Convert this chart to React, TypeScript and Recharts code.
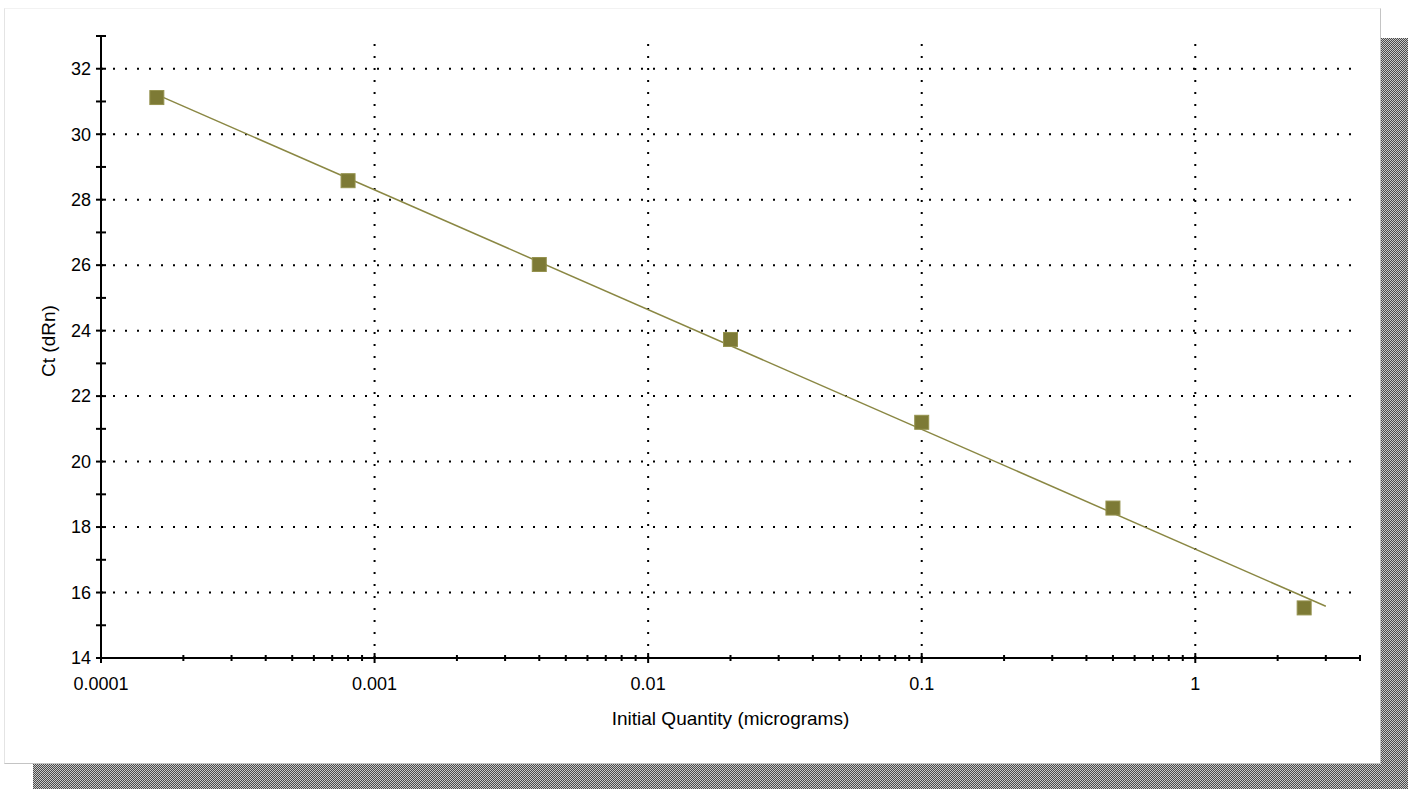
import { ReferenceLine, Scatter, ScatterChart, XAxis, YAxis } from "recharts"

// dilution series
const quantities = [0.00016, 0.0008, 0.004, 0.02, 0.1, 0.5, 2.5]
const ctValues = [31.12, 28.58, 26.02, 23.73, 21.2, 18.58, 15.53]

// fitted standard curve end points
const fitQuantities = [0.00016, 3]
const fitCt = [31.21, 15.58]

const xDecades = [0.0001, 0.001, 0.01, 0.1]
const xMantissas = [1, 2, 3, 4, 5, 6, 7, 8, 9]
const xTail = [1, 2, 3, 4]
const xGridValues = [0.001, 0.01, 0.1, 1]

const yTicks = [14, 15, 16, 17, 18, 19, 20, 21, 22, 23, 24, 25, 26, 27, 28, 29, 30, 31, 32, 33]
const yLabelled = [14, 16, 18, 20, 22, 24, 26, 28, 30, 32]
const yGridValues = [16, 18, 20, 22, 24, 26, 28, 30, 32]

const points = quantities.map((q, i) => ({ x: q, y: ctValues[i] }))
const fitLine = fitQuantities.map((q, i) => ({ x: q, y: fitCt[i] }))
const xTicks = [...xDecades.flatMap((d) => xMantissas.map((m) => m * d)), ...xTail]

const FONT = "'Liberation Sans', Arial, sans-serif"
const OLIVE = "#7d7a35"

const isDecade = (v: number) => Math.abs(Math.log10(v) - Math.round(Math.log10(v))) < 1e-9

const XTick = (props: any) => {
  const { x, y, payload } = props
  const v = payload.value
  const major = isDecade(v)
  const len = major ? 5 : 3
  return (
    <g>
      <line x1={x} x2={x} y1={y - len} y2={y + len} stroke="#000" strokeWidth={2} />
      {major && (
        <text x={x} y={y + 26} dy="0.35em" textAnchor="middle" fontSize={18} fontFamily={FONT} fill="#000">
          {String(v)}
        </text>
      )}
    </g>
  )
}

const YTick = (props: any) => {
  const { x, y, payload } = props
  const v = payload.value
  return (
    <g>
      <line x1={x - 5} x2={x + 5} y1={y} y2={y} stroke="#000" strokeWidth={2} />
      {yLabelled.includes(v) && (
        <text x={x - 10} y={y} dy="0.35em" textAnchor="end" fontSize={18} fontFamily={FONT} fill="#000">
          {v}
        </text>
      )}
    </g>
  )
}

const Square = (props: any) => {
  const { cx, cy } = props
  return <rect x={cx - 7} y={cy - 7} width={14} height={14} fill={OLIVE} stroke="#95924f" strokeWidth={1} />
}

const Nothing = () => <g />

export default function App() {
  const checker = "repeating-conic-gradient(#4a4a4a 0% 25%, #c8c8c8 0% 50%) 0 0 / 2px 2px"
  return (
    <div style={{ position: "absolute", left: 0, top: 0, width: 1408, height: 789, background: "#fff" }}>
      <div style={{ position: "absolute", left: 1380, top: 38, width: 28, height: 751, background: checker }} />
      <div style={{ position: "absolute", left: 33, top: 763, width: 1375, height: 26, background: checker }} />
      <div
        style={{
          position: "absolute",
          left: 4,
          top: 8,
          width: 1375,
          height: 754,
          background: "#fff",
          borderLeft: "1px solid #e4e4e4",
          borderTop: "1px solid #f2f2f2",
          borderRight: "1px solid #c4c4c4",
          borderBottom: "1px solid #c4c4c4",
        }}
      />
      <div style={{ position: "absolute", left: 0, top: 0 }}>
        <ScatterChart width={1408} height={789} margin={{ top: 36, right: 48, left: 0, bottom: 0 }}>
          <XAxis
            type="number"
            dataKey="x"
            scale="log"
            domain={[0.0001, 4]}
            allowDataOverflow
            ticks={xTicks}
            interval={0}
            height={131}
            tickSize={0}
            tickMargin={0}
            tickLine={false}
            axisLine={{ stroke: "#000", strokeWidth: 2 }}
            tick={<XTick />}
            label={{
              content: (p: any) => (
                <text
                  x={p.viewBox.x + p.viewBox.width / 2}
                  y={p.viewBox.y + 60}
                  dy="0.35em"
                  textAnchor="middle"
                  fontSize={19}
                  fontFamily={FONT}
                  fill="#000"
                >
                  Initial Quantity (micrograms)
                </text>
              ),
            }}
          />
          <YAxis
            type="number"
            dataKey="y"
            domain={[14, 33]}
            allowDataOverflow
            ticks={yTicks}
            interval={0}
            width={101}
            tickSize={0}
            tickMargin={0}
            tickLine={false}
            axisLine={{ stroke: "#000", strokeWidth: 2 }}
            tick={<YTick />}
            label={{
              content: (p: any) => {
                const cx = p.viewBox.x + 48
                const cy = p.viewBox.y + p.viewBox.height / 2 - 6
                return (
                  <text
                    x={cx}
                    y={cy}
                    dy="0.35em"
                    textAnchor="middle"
                    transform={`rotate(-90, ${cx}, ${cy})`}
                    fontSize={19}
                    fontFamily={FONT}
                    fill="#000"
                  >
                    Ct (dRn)
                  </text>
                )
              },
            }}
          />
          {yGridValues.map((v) => (
            <ReferenceLine key={`h${v}`} y={v} stroke="#000" strokeWidth={2} strokeDasharray="2 10" />
          ))}
          {xGridValues.map((v) => (
            <ReferenceLine key={`v${v}`} x={v} stroke="#000" strokeWidth={2} strokeDasharray="2 10" />
          ))}
          <Scatter
            data={fitLine}
            line={{ stroke: "#8a8743", strokeWidth: 1.5 }}
            shape={<Nothing />}
            isAnimationActive={false}
          />
          <Scatter data={points} shape={<Square />} isAnimationActive={false} />
        </ScatterChart>
      </div>
    </div>
  )
}
